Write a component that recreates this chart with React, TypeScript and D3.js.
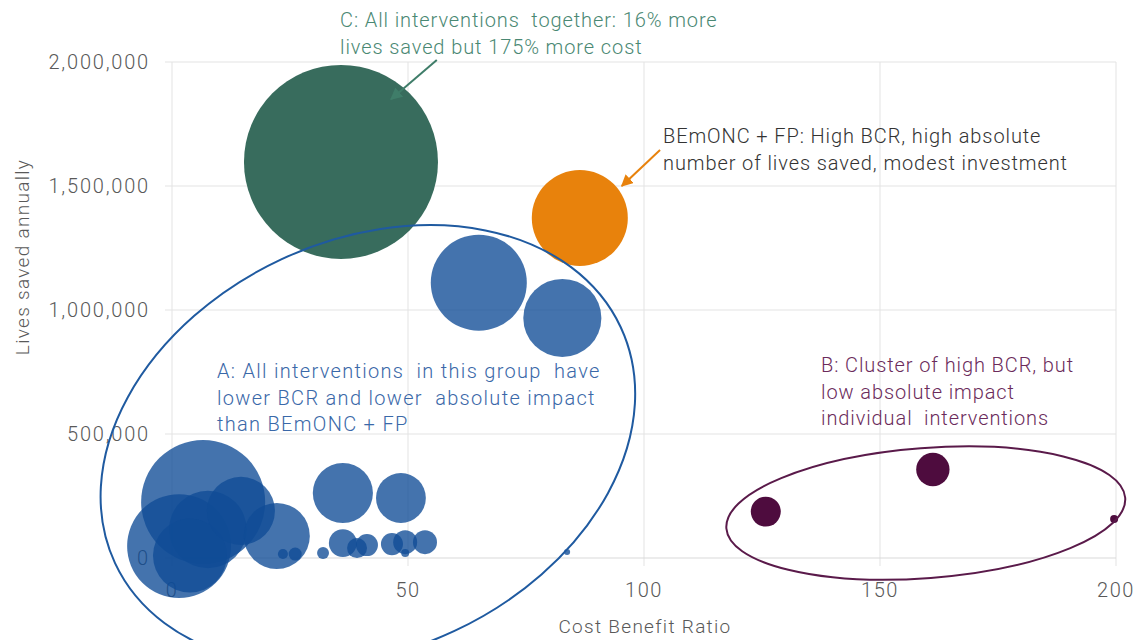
import React, { useEffect } from "react";
import * as d3 from "d3";

// ---- data ----
// Group A (blue): cost-benefit ratio, lives saved annually, relative bubble size (cost)
const groupA_bcr = [6.6, 1.5, 7.6, 3.8, 14.6, 22.2, 65, 82.7, 36.2, 48.5, 23.5, 26.1, 32, 36.2, 39.2, 41.3, 46.6, 49.4, 49.4, 53.6, 83.7];
const groupA_lives = [226000, 48000, 115000, 10000, 190000, 89000, 1110000, 968000, 262000, 242000, 16000, 16000, 20000, 60000, 40000, 52000, 56000, 64000, 20000, 64000, 24000];
const groupA_size = [40.9, 28.7, 16, 14.5, 12.3, 11.6, 24.5, 16.2, 9.6, 6.6, 0.27, 0.45, 0.38, 2.08, 1.06, 1.29, 1.29, 1.53, 0.17, 1.53, 0.1];

// Group B (purple)
const groupB_bcr = [125.8, 161.2, 199.6];
const groupB_lives = [187000, 357000, 157000];
const groupB_size = [2.39, 2.96, 0.17];

// C: all interventions together (green)
const groupC_bcr = [35.8];
const groupC_lives = [1597000];
const groupC_size = [100];

// BEmONC + FP (orange)
const bemonc_bcr = [86.4];
const bemonc_lives = [1371000];
const bemonc_size = [24.5];

const xTicks = [0, 50, 100, 150, 200];
const yTicks = [0, 500000, 1000000, 1500000, 2000000];

const W = 1135;
const H = 640;
const FONT = "Roboto, 'Noto Sans', sans-serif";

export default function App() {
  useEffect(() => {
    document.body.style.margin = "0";
  }, []);

  const x = d3.scaleLinear().domain([0, 200]).range([172, 1116]);
  const y = d3.scaleLinear().domain([0, 2000000]).range([558, 62]);
  const r = d3.scaleSqrt().domain([0, 100]).range([0, 97]);
  const fmt = d3.format(",");

  const mk = (bcr: number[], lives: number[], size: number[]) =>
    bcr.map((b, i) => ({ b, l: lives[i], s: size[i] })).sort((p, q) => q.s - p.s);

  const A = mk(groupA_bcr, groupA_lives, groupA_size);
  const B = mk(groupB_bcr, groupB_lives, groupB_size);
  const C = mk(groupC_bcr, groupC_lives, groupC_size);
  const O = mk(bemonc_bcr, bemonc_lives, bemonc_size);

  // annotation ellipses (centre in data units)
  const eA = { cx: x(41.5), cy: y(455000), rx: 279, ry: 205, rot: -25 };
  const eB = { cx: x(159.7), cy: y(181000), rx: 200, ry: 65, rot: -4.4 };

  const arrowC = { x1: x(56.1), y1: y(2008000), x2: x(46.4), y2: y(1850000) };
  const arrowO = { x1: x(103.4), y1: y(1645000), x2: x(95.3), y2: y(1500000) };

  const grid = "#e3e3e3";
  const lab = { fontSize: 20, fill: "#595959", fontWeight: 300 } as const;

  return (
    <svg width={W} height={H} style={{ position: "absolute", left: 0, top: 0, background: "#fff" }} fontFamily={FONT}>
      <defs>
        <marker id="arrG" viewBox="0 0 10 10" refX="9" refY="5" markerWidth="6" markerHeight="6" orient="auto">
          <path d="M0,0 L10,5 L0,10 z" fill="#3f7d69" />
        </marker>
        <marker id="arrO" viewBox="0 0 10 10" refX="9" refY="5" markerWidth="6" markerHeight="6" orient="auto">
          <path d="M0,0 L10,5 L0,10 z" fill="#e8820c" />
        </marker>
      </defs>

      {/* grid */}
      {xTicks.map((t) => (
        <line key={"gx" + t} x1={x(t)} x2={x(t)} y1={y(2000000)} y2={y(0) + 8} stroke={grid} strokeWidth={1} />
      ))}
      {yTicks.map((t) => (
        <line key={"gy" + t} x1={x(0) - 7} x2={x(200)} y1={y(t)} y2={y(t)} stroke={t === 0 ? "#d9d9d9" : grid} strokeWidth={1} />
      ))}

      {/* tick labels */}
      {yTicks.map((t) => (
        <text key={"ty" + t} x={150} y={y(t)} dy="0.35em" textAnchor="end" {...lab} letterSpacing={1.8}>
          {fmt(t)}
        </text>
      ))}
      {xTicks.map((t) => (
        <text key={"tx" + t} x={x(t)} y={y(0) + 39} textAnchor="middle" {...lab} letterSpacing={1.5}>
          {t}
        </text>
      ))}

      {/* axis titles */}
      <text x={645} y={633} textAnchor="middle" {...lab} fontSize={19} letterSpacing={1.3}>
        Cost Benefit Ratio
      </text>
      <text transform={`translate(29,257) rotate(-90)`} textAnchor="middle" {...lab} fontSize={19} letterSpacing={1.3}>
        Lives saved annually
      </text>

      {/* bubbles */}
      {C.map((d, i) => (
        <circle key={"c" + i} cx={x(d.b)} cy={y(d.l)} r={r(d.s)} fill="#386c5d" />
      ))}
      {O.map((d, i) => (
        <circle key={"o" + i} cx={x(d.b)} cy={y(d.l)} r={r(d.s)} fill="#e8820c" />
      ))}
      {A.map((d, i) => (
        <circle key={"a" + i} cx={x(d.b)} cy={y(d.l)} r={r(d.s)} fill="#0f4c96" fillOpacity={0.78} />
      ))}
      {B.map((d, i) => (
        <circle key={"b" + i} cx={x(d.b)} cy={y(d.l)} r={r(d.s)} fill="#4e0c3e" />
      ))}

      {/* ellipses */}
      <ellipse cx={eA.cx} cy={eA.cy} rx={eA.rx} ry={eA.ry} transform={`rotate(${eA.rot},${eA.cx},${eA.cy})`} fill="none" stroke="#1f5aa0" strokeWidth={2} />
      <ellipse cx={eB.cx} cy={eB.cy} rx={eB.rx} ry={eB.ry} transform={`rotate(${eB.rot},${eB.cx},${eB.cy})`} fill="none" stroke="#5a1a4a" strokeWidth={2} />

      {/* arrows */}
      <line x1={arrowC.x1} y1={arrowC.y1} x2={arrowC.x2} y2={arrowC.y2} stroke="#3f7d69" strokeWidth={2} markerEnd="url(#arrG)" />
      <line x1={arrowO.x1} y1={arrowO.y1} x2={arrowO.x2} y2={arrowO.y2} stroke="#e8820c" strokeWidth={2} markerEnd="url(#arrO)" />

      {/* annotation texts */}
      <text fontSize={20} fill="#4a8873" fontWeight={300} letterSpacing={0.9} xmlSpace="preserve">
        <tspan x={340} y={27}>C: All interventions  together: 16% more</tspan>
        <tspan x={340} y={54}>lives saved but 175% more cost</tspan>
      </text>
      <text fontSize={20} fill="#333" fontWeight={300} letterSpacing={0.9} xmlSpace="preserve">
        <tspan x={663} y={143}>BEmONC + FP: High BCR, high absolute</tspan>
        <tspan x={663} y={170}>number of lives saved, modest investment</tspan>
      </text>
      <text fontSize={20} fill="#3a68a8" fontWeight={300} letterSpacing={1.3} xmlSpace="preserve">
        <tspan x={217} y={378}>A: All interventions  in this group  have</tspan>
        <tspan x={217} y={405}>lower BCR and lower  absolute impact</tspan>
        <tspan x={217} y={431}>than BEmONC + FP</tspan>
      </text>
      <text fontSize={20} fill="#6b2b5b" fontWeight={300} letterSpacing={0.9} xmlSpace="preserve">
        <tspan x={821} y={372}>B: Cluster of high BCR, but</tspan>
        <tspan x={821} y={399}>low absolute impact</tspan>
        <tspan x={821} y={425}>individual  interventions</tspan>
      </text>
    </svg>
  );
}
